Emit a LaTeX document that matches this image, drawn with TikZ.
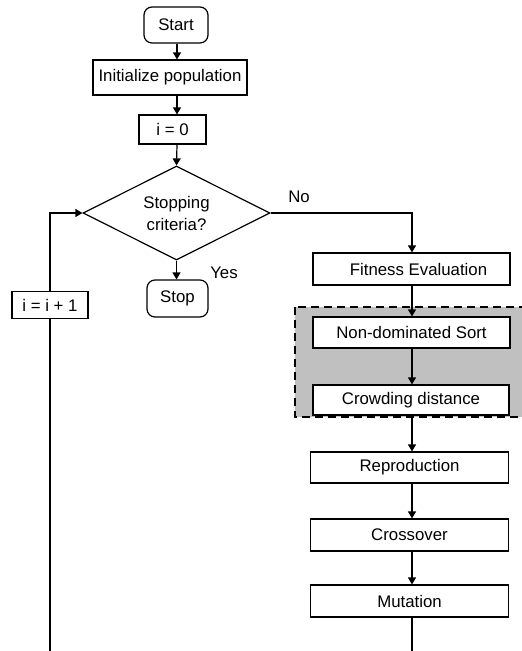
\documentclass[tikz,border=0pt]{standalone}
\usepackage{fontspec}
\setmainfont{Liberation Sans}
\usetikzlibrary{shapes.geometric,arrows.meta}
\definecolor{boxgray}{RGB}{192,192,192}
\tikzset{
  every node/.style={font=\fontsize{16.8}{22}\selectfont},
  proc/.style={draw, line width=1.2pt, fill=white, inner sep=0pt},
  term/.style={draw, line width=1.2pt, fill=white, rounded corners=8pt, inner sep=0pt},
  conn/.style={line width=1.2pt},
  arr/.style={line width=1.2pt, -{Triangle[length=7pt,width=8pt]}},
  lbl/.style={inner sep=0pt}
}
\begin{document}
\begin{tikzpicture}[x=1pt,y=-1pt]
\useasboundingbox (0,0) rectangle (522,651);
\clip (0,0) rectangle (522,651);
% grey group
\draw[fill=boxgray, line width=1.2pt, dash pattern=on 8pt off 5pt] (295,307) rectangle (535,417);
% nodes
\node[term, minimum width=64pt, minimum height=36pt] (start) at (176,25) {Start};
\node[proc, minimum width=154pt, minimum height=35pt] (init) at (170,77.5) {Initialize population};
\node[proc, minimum width=67pt, minimum height=29pt] (zero) at (172.5,129.5) {i = 0};
\node[diamond, draw, line width=1.2pt, inner sep=0pt, shape aspect=2, minimum width=187pt, minimum height=94pt, align=center] (dec) at (176.5,213) {Stopping\\criteria?};
\node[term, minimum width=61pt, minimum height=37pt] (stop) at (177.5,298.5) {Stop};
\node[proc, minimum width=76pt, minimum height=27pt] (inc) at (50,305) {i = i + 1};
\node[proc, minimum width=197pt, minimum height=32pt] (fit) at (411.5,269) {\hspace*{14pt}Fitness Evaluation};
\node[proc, minimum width=197pt, minimum height=31pt] (nds) at (411.5,332.5) {Non-dominated Sort};
\node[proc, minimum width=196pt, minimum height=30pt] (crowd) at (411,400) {Crowding distance};
\node[proc, minimum width=198pt, minimum height=31pt] (repro) at (409.5,467.5) {Reproduction};
\node[proc, minimum width=198pt, minimum height=32pt] (cross) at (409.5,535) {Crossover};
\node[proc, minimum width=198pt, minimum height=32pt] (mut) at (409.5,601) {Mutation};
\node[lbl] (no) at (299,197) {No};
\node[lbl] (yes) at (224,273) {Yes};
\coordinate (bl) at (50,660);
\coordinate (br) at (412,660);
% connectors
\draw[arr] (start.south -| 177,0) -- (init.north -| 177,0);
\draw[arr] (init.south -| 177,0) -- (zero.north -| 177,0);
\draw[arr] (zero.south -| 177,0) -- (dec.north);
\draw[arr] (dec.south) -- (stop.north -| dec.south);
\draw[arr] (dec.east) -- (dec.east -| 412,0) -- (fit.north -| 412,0);
\draw[arr] (fit.south -| 412,0) -- (nds.north -| 412,0);
\draw[arr] (nds.south -| 412,0) -- (crowd.north -| 412,0);
\draw[arr] (crowd.south -| 412,0) -- (repro.north -| 412,0);
\draw[arr] (repro.south -| 412,0) -- (cross.north -| 412,0);
\draw[arr] (cross.south -| 412,0) -- (mut.north -| 412,0);
\draw[conn] (mut.south -| br) -- (br);
\draw[arr] (inc.north) -- (inc.north |- dec.west) -- (dec.west);
\draw[conn] (inc.south) -- (bl);
\end{tikzpicture}
\end{document}
